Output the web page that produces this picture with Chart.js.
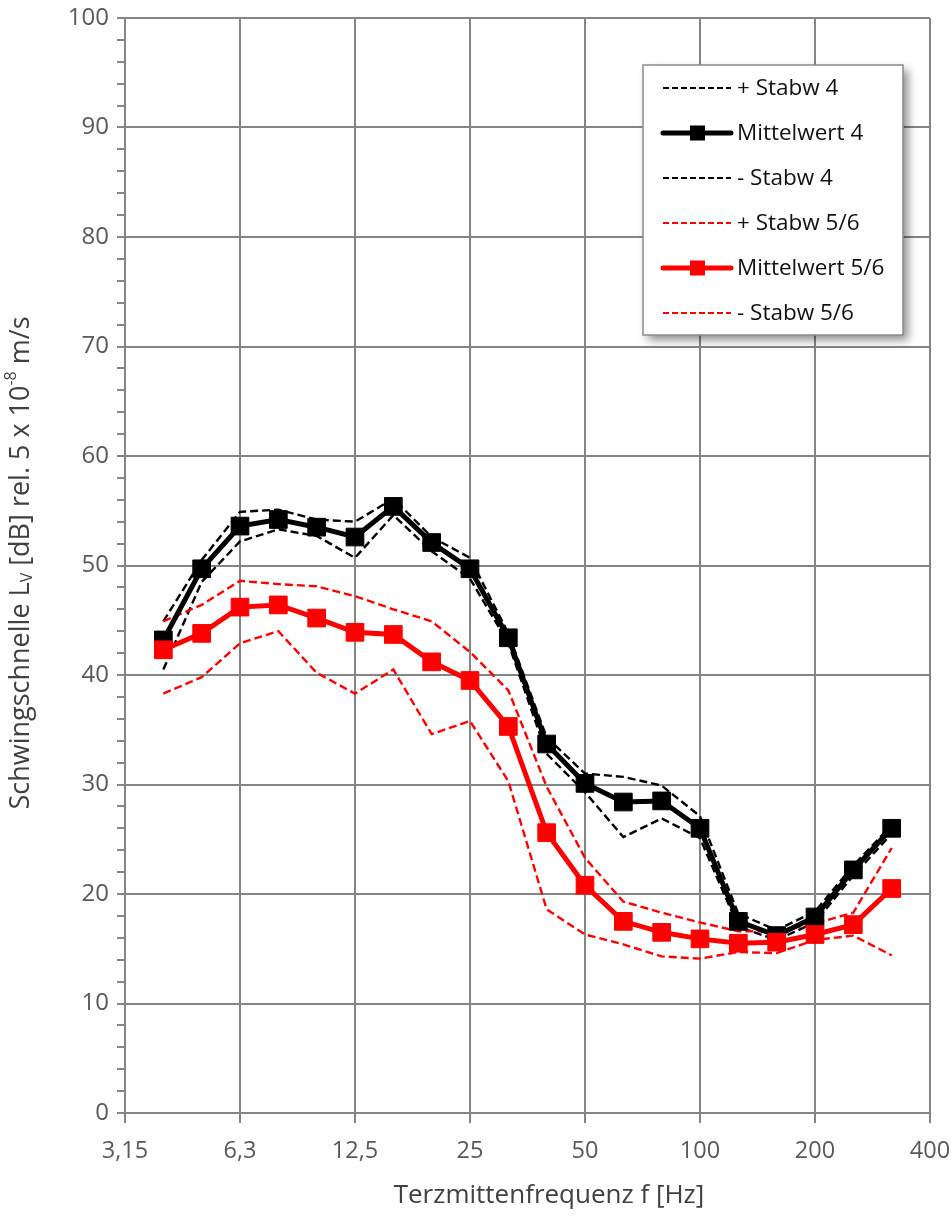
<!DOCTYPE html>
<html>
<head>
<meta charset="utf-8">
<script src="https://cdn.jsdelivr.net/npm/chart.js@4.4.1/dist/chart.umd.min.js"></script>
<style>
html,body{margin:0;padding:0;background:#ffffff;}
#wrap{width:952px;height:1217px;position:relative;}
canvas{display:block;}
</style>
</head>
<body>
<div id="wrap"><canvas id="c" width="952" height="1217"></canvas></div>
<script>
// Third-octave band centre frequencies (3,15 and 400 only carry axis labels)
const freqLabels = ['3,15','4','5','6,3','8','10','12,5','16','20','25','31,5','40','50','63','80','100','125','160','200','250','315','400'];

const seriesNames = ['+ Stabw 4','Mittelwert 4','- Stabw 4','+ Stabw 5/6','Mittelwert 5/6','- Stabw 5/6'];

const plusStabw4 = [null,44.9,50.5,54.9,55.1,54.2,54.0,56.1,52.6,50.7,43.8,34.3,31.0,30.7,29.9,27.1,18.2,16.7,18.4,22.6,26.3,null];
const mittelwert4 = [null,43.2,49.7,53.6,54.2,53.5,52.6,55.4,52.1,49.7,43.4,33.7,30.1,28.4,28.5,26.0,17.5,16.2,17.9,22.2,26.0,null];
const minusStabw4 = [null,40.5,48.5,52.2,53.3,52.7,50.7,54.6,51.3,48.8,42.9,32.8,29.3,25.2,26.9,25.1,17.0,15.8,17.4,21.7,25.5,null];

const plusStabw56 = [null,44.9,46.4,48.6,48.3,48.1,47.2,46.0,44.9,42.1,38.6,29.8,23.3,19.3,18.3,17.4,16.6,16.6,17.3,18.3,24.2,null];
const mittelwert56 = [null,42.3,43.8,46.2,46.4,45.2,43.9,43.7,41.2,39.5,35.3,25.6,20.8,17.5,16.5,15.9,15.5,15.6,16.3,17.2,20.5,null];
const minusStabw56 = [null,38.3,39.8,42.9,44.0,40.2,38.3,40.5,34.6,35.8,30.3,18.6,16.3,15.4,14.3,14.1,14.7,14.6,15.8,16.2,14.4,null];

const yTicksMajor = [0,10,20,30,40,50,60,70,80,90,100];

const FONT = '"Open Sans", "DejaVu Sans", sans-serif';
const GRID = '#858585';
const TXT = '#595959';
const RED = '#ff0000';
const BLK = '#000000';

function dashed(label, data, color, order) {
  return {
    label, data, borderColor: color, backgroundColor: color,
    borderWidth: 2.4, borderDash: [8, 4], pointRadius: 0, pointHoverRadius: 0,
    tension: 0, fill: false, order, spanGaps: false
  };
}
function meanLine(label, data, color, order) {
  return {
    label, data, borderColor: color, backgroundColor: color,
    borderWidth: 5, pointStyle: 'rect', pointRadius: 12.5, pointHoverRadius: 12.5,
    pointBackgroundColor: color, pointBorderColor: color, pointBorderWidth: 1,
    tension: 0, fill: false, order
  };
}

const boxLegend = {
  id: 'boxLegend',
  afterDraw(chart) {
    const ctx = chart.ctx;
    const x0 = 643, y0 = 65, w = 260, h = 270;
    ctx.save();
    ctx.shadowColor = 'rgba(0,0,0,0.45)';
    ctx.shadowBlur = 9;
    ctx.shadowOffsetX = 5;
    ctx.shadowOffsetY = 5;
    ctx.fillStyle = '#ffffff';
    ctx.fillRect(x0, y0, w, h);
    ctx.restore();
    ctx.save();
    ctx.strokeStyle = '#8c8c8c';
    ctx.lineWidth = 1.5;
    ctx.strokeRect(x0, y0, w, h);
    chart.data.datasets.forEach((ds, i) => {
      const y = 88 + i * 45;
      ctx.beginPath();
      if (ds.borderDash) {
        ctx.setLineDash([6, 3]);
        ctx.lineWidth = 1.8;
        ctx.lineCap = 'butt';
      } else {
        ctx.setLineDash([]);
        ctx.lineWidth = 5;
        ctx.lineCap = 'round';
      }
      ctx.strokeStyle = ds.borderColor;
      ctx.moveTo(663, y);
      ctx.lineTo(731, y);
      ctx.stroke();
      ctx.setLineDash([]);
      if (ds.pointRadius > 0) {
        ctx.fillStyle = ds.pointBackgroundColor;
        ctx.fillRect(690, y - 7.5, 15, 15);
      }
      ctx.fillStyle = '#111111';
      ctx.font = '22.5px ' + FONT;
      ctx.textBaseline = 'middle';
      ctx.textAlign = 'left';
      ctx.fillText(ds.label, 737, y + 1);
    });
    ctx.restore();
  }
};

const axisTitles = {
  id: 'axisTitles',
  afterDraw(chart) {
    const ctx = chart.ctx;
    ctx.save();
    ctx.fillStyle = '#404040';
    ctx.textBaseline = 'middle';
    // x title
    ctx.font = '26px ' + FONT;
    ctx.textAlign = 'center';
    ctx.fillText('Terzmittenfrequenz f [Hz]', 549, 1196);
    // y title with subscript/superscript
    const segs = [
      { t: 'Schwingschnelle L', s: 27, dy: 0 },
      { t: 'V', s: 16, dy: 6 },
      { t: ' [dB] rel. 5 x 10', s: 27, dy: 0 },
      { t: '-8', s: 16, dy: -10 },
      { t: ' m/s', s: 27, dy: 0 }
    ];
    let total = 0;
    segs.forEach(sg => { ctx.font = sg.s + 'px ' + FONT; sg.w = ctx.measureText(sg.t).width; total += sg.w; });
    ctx.translate(21, 563);
    ctx.rotate(-Math.PI / 2);
    ctx.textAlign = 'left';
    let x = -total / 2;
    segs.forEach(sg => {
      ctx.font = sg.s + 'px ' + FONT;
      ctx.fillText(sg.t, x, sg.dy);
      x += sg.w;
    });
    ctx.restore();
  }
};

const chart = new Chart(document.getElementById('c'), {
  type: 'line',
  data: {
    labels: freqLabels,
    datasets: [
      dashed(seriesNames[0], plusStabw4, BLK, 5),
      meanLine(seriesNames[1], mittelwert4, BLK, 1),
      dashed(seriesNames[2], minusStabw4, BLK, 4),
      dashed(seriesNames[3], plusStabw56, RED, 3),
      meanLine(seriesNames[4], mittelwert56, RED, 0),
      dashed(seriesNames[5], minusStabw56, RED, 2)
    ]
  },
  options: {
    responsive: false,
    devicePixelRatio: 1,
    animation: false,
    layout: { padding: { left: 0, top: 18, right: 22, bottom: 0 } },
    plugins: {
      legend: { display: false },
      tooltip: { enabled: false },
      title: { display: false }
    },
    scales: {
      x: {
        type: 'category',
        offset: false,
        afterFit(scale) { scale.height = 104; scale.paddingLeft = 0; scale.paddingRight = 0; },
        border: { display: true, color: GRID, width: 2 },
        grid: {
          offset: false,
          drawTicks: true,
          tickLength: 10,
          lineWidth: 2,
          color: (c) => (c.index % 3 === 0 ? GRID : 'rgba(0,0,0,0)'),
          tickColor: (c) => (c.index % 3 === 0 ? GRID : 'rgba(0,0,0,0)')
        },
        ticks: {
          autoSkip: false,
          maxRotation: 0,
          minRotation: 0,
          padding: 14,
          color: TXT,
          font: { family: FONT, size: 23.5 },
          callback: (v, i) => (i % 3 === 0 ? freqLabels[i] : '')
        }
      },
      y: {
        type: 'linear',
        min: 0,
        max: 100,
        afterFit(scale) { scale.width = 125; scale.paddingTop = 0; scale.paddingBottom = 0; },
        border: { display: true, color: GRID, width: 2 },
        grid: {
          drawTicks: true,
          tickLength: 8,
          lineWidth: 2,
          color: (c) => (c.tick && yTicksMajor.includes(c.tick.value) ? GRID : 'rgba(0,0,0,0)'),
          tickColor: GRID
        },
        ticks: {
          stepSize: 2,
          autoSkip: false,
          padding: 8,
          color: TXT,
          font: { family: FONT, size: 24 },
          callback: (v) => (yTicksMajor.includes(v) ? String(v) : '')
        }
      }
    }
  },
  plugins: [boxLegend, axisTitles]
});
</script>
</body>
</html>
